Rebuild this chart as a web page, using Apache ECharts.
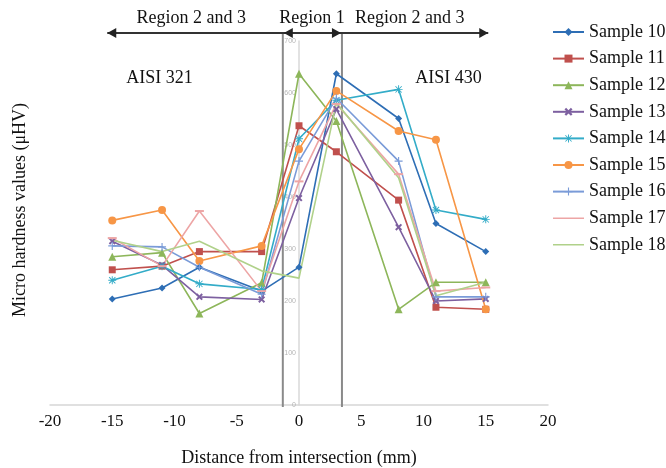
<!DOCTYPE html>
<html>
<head>
<meta charset="utf-8">
<script src="https://cdn.jsdelivr.net/npm/echarts@6/dist/echarts.min.js"></script>
<style>html,body{margin:0;padding:0;background:#fff;}#c{width:666px;height:468px;}</style>
</head>
<body>
<div id="c"></div>
<script>
// Data
const xPositions = [-15, -11, -8, -3, 0, 3, 8, 11, 15];
const seriesNames = ['Sample 10','Sample 11','Sample 12','Sample 13','Sample 14','Sample 15','Sample 16','Sample 17','Sample 18'];
const sample10 = [204, 225, 265, 219, 265, 637, 551, 349, 295];
const sample11 = [260, 267, 295, 295, 537, 487, 394, 188, 184];
const sample12 = [285, 293, 176, 235, 637, 546, 184, 236, 236];
const sample13 = [315, 269, 208, 203, 398, 569, 342, 200, 204];
const sample14 = [240, 267, 233, 222, 512, 586, 607, 375, 357];
const sample15 = [355, 375, 277, 306, 492, 604, 527, 510, 184];
const sample16 = [306, 304, 265, 213, 469, 590, 469, 208, 208];
const sample17 = [321, 267, 373, 219, 430, 579, 444, 219, 226];
const sample18 = [317, 295, 315, 258, 244, 581, 437, 210, 236];
const xTicks = [-20, -15, -10, -5, 0, 5, 10, 15, 20];
const yTicks = [0, 100, 200, 300, 400, 500, 600, 700];

const allValues = [sample10, sample11, sample12, sample13, sample14, sample15, sample16, sample17, sample18];
const colors = ['#2E6EB5','#C0504D','#8DB65A','#7D60A0','#33ACC8','#F79646','#7A9BD8','#EDA5A5','#B0D18A'];
const symbols = [
  'diamond', 'rect', 'triangle',
  'path://M2,0L5,3L8,0L10,2L7,5L10,8L8,10L5,7L2,10L0,8L3,5L0,2Z',
  'path://M4.4,0H5.6V10H4.4Z M0,4.4H10V5.6H0Z M0.7,1.5L1.5,0.7L9.3,8.5L8.5,9.3Z M8.5,0.7L9.3,1.5L1.5,9.3L0.7,8.5Z',
  'circle',
  'path://M4.3,0H5.7V4.3H10V5.7H5.7V10H4.3V5.7H0V4.3H4.3Z',
  'rect',
  'rect'
];
const symbolSizes = [7, 7, 8, 7, 8, 8, 8, [9, 2], 0.01];
const lineIcon = 'path://M0,0H0.01V0.01H0Z M0,4.2H31V5.8H0Z M30.99,9.99H31V10H30.99Z';
const serif = '"Liberation Serif", "DejaVu Serif", serif';

const chart = echarts.init(document.getElementById('c'), null, {renderer: 'canvas'});
const series = allValues.map((vals, i) => ({
  name: seriesNames[i],
  type: 'line',
  data: xPositions.map((x, j) => [x, vals[j]]),
  symbol: symbols[i],
  symbolSize: symbolSizes[i],
  lineStyle: {width: 1.6, color: colors[i]},
  itemStyle: {color: colors[i]},
  color: colors[i],
  z: 3
}));

const gridLeft = 50, gridRight = 118;
const plotWidth = 666 - gridLeft - gridRight;
const zeroOffset = -(plotWidth * (0 - (-20)) / 40);

chart.setOption({
  animation: false,
  color: colors,
  grid: {left: gridLeft, right: gridRight, top: 41, bottom: 63, containLabel: false, outerBoundsMode: 'none'},
  legend: {
    orient: 'vertical', left: 552, top: 23, padding: 0,
    itemWidth: 31, itemHeight: 10, itemGap: 8.6,
    textStyle: {fontFamily: serif, fontSize: 18, color: '#111'},
    data: seriesNames.map((n, i) => i >= 7 ? {name: n, icon: lineIcon} : n)
  },
  xAxis: {
    type: 'value', min: -20, max: 20, interval: 5,
    axisLine: {onZero: false, lineStyle: {color: '#d6d6d6', width: 1.5}},
    axisTick: {show: false},
    splitLine: {show: false},
    axisLabel: {fontFamily: serif, fontSize: 17, color: '#111', margin: 8,
      formatter: v => xTicks.includes(v) ? String(v) : ''},
    name: 'Distance from intersection (mm)',
    nameLocation: 'middle', nameGap: 44,
    nameTextStyle: {fontFamily: serif, fontSize: 18, color: '#111'}
  },
  yAxis: {
    type: 'value', min: 0, max: 700, interval: 100,
    position: 'left', offset: zeroOffset,
    axisLine: {show: true, onZero: false, lineStyle: {color: '#d8d8d8', width: 1.5}},
    axisTick: {show: false},
    splitLine: {show: false},
    axisLabel: {fontSize: 7, color: '#b5b5b5', margin: 3,
      formatter: v => yTicks.includes(v) ? String(v) : ''}
  },
  series: series
});

function px(x, y) { return chart.convertToPixel({gridIndex: 0}, [x, y]); }
const yBottom = px(0, 0)[1];
const yArrow = 33;
const lineLeft = px(-1.3, 0)[0];
const lineRight = px(3.45, 0)[0];
const arrowStart = px(-15.4, 0)[0];
const arrowEnd = px(15.2, 0)[0];
const ah = 5, aw = 9;
function headLeft(x) { return {type: 'polygon', shape: {points: [[x, yArrow], [x + aw, yArrow - ah], [x + aw, yArrow + ah]]}, style: {fill: '#222'}, z: 10}; }
function headRight(x) { return {type: 'polygon', shape: {points: [[x, yArrow], [x - aw, yArrow - ah], [x - aw, yArrow + ah]]}, style: {fill: '#222'}, z: 10}; }
function label(text, xd, y) {
  return {type: 'text', x: px(xd, 0)[0], y: y, style: {text: text, font: '18px ' + serif, fill: '#111', align: 'center', verticalAlign: 'middle'}, z: 10};
}

chart.setOption({
  graphic: [
    {type: 'line', shape: {x1: lineLeft, y1: yArrow, x2: lineLeft, y2: yBottom + 2}, style: {stroke: '#8a8a8a', lineWidth: 2}, z: 1},
    {type: 'line', shape: {x1: lineRight, y1: yArrow, x2: lineRight, y2: yBottom + 2}, style: {stroke: '#8a8a8a', lineWidth: 2}, z: 1},
    {type: 'line', shape: {x1: arrowStart, y1: yArrow, x2: arrowEnd, y2: yArrow}, style: {stroke: '#333', lineWidth: 2}, z: 10},
    headLeft(arrowStart),
    headLeft(lineLeft + 1),
    headRight(lineRight - 1),
    headRight(arrowEnd),
    label('Region 2 and 3', -8.65, 18),
    label('Region 1', 1.05, 18),
    label('Region 2 and 3', 8.9, 18),
    label('AISI 321', -11.2, 78),
    label('AISI 430', 12.0, 78),
    {type: 'text', x: 20, y: 210, rotation: Math.PI / 2,
      style: {text: 'Micro hardness values (μHV)', font: '18px ' + serif, fill: '#111', align: 'center', verticalAlign: 'middle'}, z: 10}
  ]
});
</script>
</body>
</html>
